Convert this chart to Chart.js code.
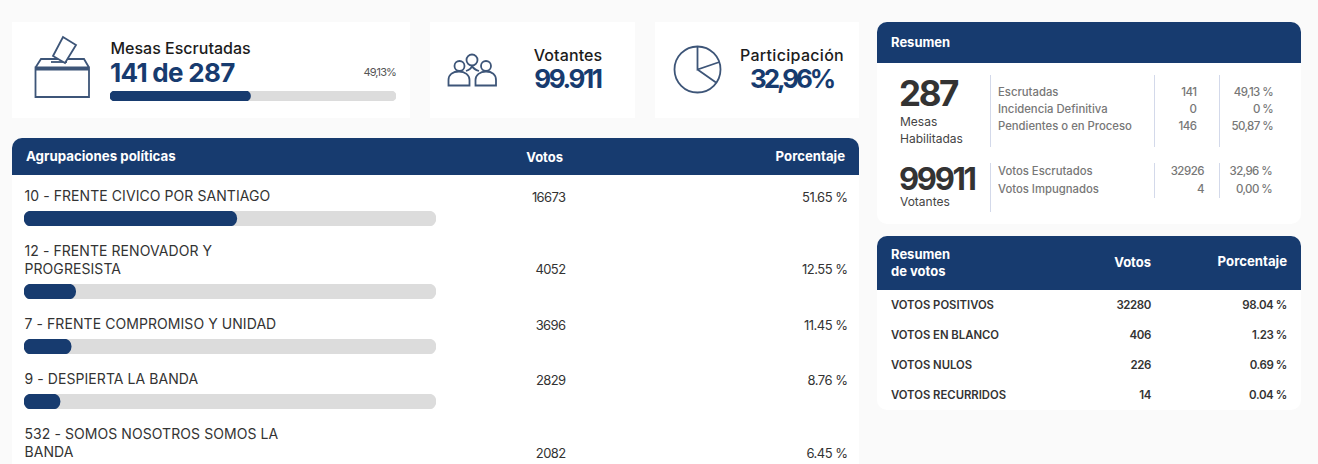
<!DOCTYPE html>
<html lang="es"><head><meta charset="utf-8">
<script src="https://cdn.jsdelivr.net/npm/chart.js@4"></script>
<style>
html,body{margin:0;padding:0;width:1318px;height:464px;overflow:hidden;background:#fafafa}
body{position:relative;font-family:"Inter","Lato",sans-serif;color:#333}
.box{position:absolute;background:#fff}
.head{position:absolute;background:#173b6f}
.t{position:absolute;white-space:nowrap;line-height:1}
.l{position:absolute;width:1px;background:#d3d9ea}
canvas{position:absolute;display:block}
svg{position:absolute;left:0;top:0;fill:none;stroke:#3d5578;stroke-width:1.8}
</style></head><body>
<div class="box" style="left:12px;top:22px;width:398px;height:96px"></div>
<div class="box" style="left:430px;top:22px;width:205px;height:96px"></div>
<div class="box" style="left:655px;top:22px;width:204px;height:96px"></div>
<div class="box" style="left:12px;top:138px;width:847px;height:340px;border-radius:10px 10px 0 0"></div>
<div class="head" style="left:12px;top:138px;width:847px;height:37px;border-radius:10px 10px 0 0"></div>
<div class="box" style="left:877px;top:22px;width:424px;height:202px;border-radius:10px"></div>
<div class="head" style="left:877px;top:22px;width:424px;height:41px;border-radius:10px 10px 0 0"></div>
<div class="box" style="left:877px;top:236px;width:424px;height:174px;border-radius:10px"></div>
<div class="head" style="left:877px;top:236px;width:424px;height:54px;border-radius:10px 10px 0 0"></div>

<svg width="1318" height="120" viewBox="0 0 1318 120">
<path d="M35.500 67.500V97H89V67.500Z M35.500 67.500L41 59H84L89 67.500 M35.500 69.500H89"/>
<path d="M51 62H67"/>
<path d="M53 56L63 37L76 45L65 63Z" fill="#fff"/>
<circle cx="459.500" cy="66" r="5"/><circle cx="472" cy="60" r="5.500"/><circle cx="486" cy="66" r="5"/>
<path d="M448.500 85.500V80C448.500 74.500 453 71.500 459 71.500C465 71.500 469.500 75 469.500 80V85.500Z"/>
<path d="M475.500 85.500V80C475.500 75 480 71.500 486 71.500C492 71.500 496 74.500 496 80V85.500Z"/>
<path d="M466 71C469 70 471.500 68 472 66 M472 66C473 68 476 70 479 71"/>
<circle cx="697.500" cy="69.500" r="23"/><path d="M697.500 46.500V69.500L719.500 62 M697.500 69.500L716 82.500"/>
</svg>

<canvas id="mesasBar" style="left:110px;top:91px;width:286px;height:10px" width="286" height="10"></canvas>
<div id="root"></div>
<script>
const partyLabels = [["10 - FRENTE CIVICO POR SANTIAGO"],["12 - FRENTE RENOVADOR Y","PROGRESISTA"],["7 - FRENTE COMPROMISO Y UNIDAD"],["9 - DESPIERTA LA BANDA"],["532 - SOMOS NOSOTROS SOMOS LA","BANDA"]];
const partyVotes = [16673,4052,3696,2829,2082];
const partyPercent = [51.65,12.55,11.45,8.76,6.45];
const mesasPercent = 49.13;
const resumenRows = [["Escrutadas","141","49,13 %"],["Incidencia Definitiva","0","0 %"],["Pendientes o en Proceso","146","50,87 %"]];
const votantesRows = [["Votos Escrutados","32926","32,96 %"],["Votos Impugnados","4","0,00 %"]];
const votosLabels = ["VOTOS POSITIVOS","VOTOS EN BLANCO","VOTOS NULOS","VOTOS RECURRIDOS"];
const votosValues = [32280,406,226,14];
const votosPercent = ["98.04 %","1.23 %","0.69 %","0.04 %"];

const NAVY="#173b6f", TRACK="#dcdcdc";
const root=document.getElementById('root');
function T(text,x,y,o={}){
  const d=document.createElement('div');d.className='t';d.textContent=text;
  const a=o.a||'l';
  const tx=a==='l'?'0':a==='r'?'-100%':'-50%';
  d.style.cssText=`left:${x}px;top:${y}px;transform:translate(${tx},-50%);font-size:${o.s||13}px;font-weight:${o.w||400};color:${o.c||'#333'};letter-spacing:${o.ls||0}px`;
  root.appendChild(d);
}
function L(x,y1,y2){const d=document.createElement('div');d.className='l';d.style.cssText=`left:${x}px;top:${y1}px;height:${y2-y1}px`;root.appendChild(d);}
function bar(cv,val){
  new Chart(cv,{type:'bar',data:{labels:[''],datasets:[
    {data:[val],backgroundColor:NAVY,borderRadius:99,borderSkipped:false,order:0},
    {data:[100],backgroundColor:TRACK,borderRadius:99,borderSkipped:false,order:1}
  ]},options:{indexAxis:'y',responsive:false,animation:false,events:[],
    datasets:{bar:{grouped:false,barPercentage:1,categoryPercentage:1}},
    layout:{padding:0},plugins:{legend:{display:false},tooltip:{enabled:false}},
    scales:{x:{display:false,min:0,max:100},y:{display:false}}}});
}
// KPI cards
T("Mesas Escrutadas",110.500,48,{s:16,w:500,c:'#1c1c1c'});
T("141 de 287",110,72.500,{s:26,w:700,c:NAVY,ls:-0.7});
T("49,13%",396,72,{s:11,c:'#555',a:'r',ls:-0.9});
T("Votantes",568,54.500,{s:16,w:500,c:'#1c1c1c',a:'c',ls:0.1});
T("99.911",567.500,79,{s:26,w:700,c:NAVY,a:'c',ls:-2.4});
T("Participación",792,54.500,{s:16,w:500,c:'#1c1c1c',a:'c',ls:0.3});
T("32,96%",791.500,79,{s:26,w:700,c:NAVY,a:'c',ls:-3.1});
bar(document.getElementById('mesasBar'),mesasPercent);
// main table
T("Agrupaciones políticas",26,157,{s:13.300,w:700,c:'#fff'});
T("Votos",563,157,{s:13,w:700,c:'#fff',a:'r'});
T("Porcentaje",845,157,{s:13.200,w:700,c:'#fff',a:'r'});
const rowTop=[196,251,324,379,434];
const barTop=[211,284,339,394,467];
const valY=[197,269,325,380,453];
partyLabels.forEach((lines,i)=>{
  lines.forEach((s,j)=>T(s,24.500,rowTop[i]+j*18,{s:14,c:'#333',ls:0.07}));
  T(String(partyVotes[i]),565.500,valY[i],{s:13,c:'#333',a:'r',ls:-0.6});
  T(partyPercent[i].toFixed(2)+" %",847.500,valY[i],{s:13,c:'#333',a:'r',ls:-0.5});
  const c=document.createElement('canvas');c.width=412;c.height=15;
  c.style.cssText=`left:24px;top:${barTop[i]}px;width:412px;height:15px`;
  root.appendChild(c);bar(c,partyPercent[i]);
});
// resumen
T("Resumen",891,42,{s:13,w:700,c:'#fff'});
T("287",899,93,{s:35,w:700,c:'#333',ls:-2.4});
T("Mesas",900,122,{s:12,c:'#444'});
T("Habilitadas",900,138.500,{s:12,c:'#444'});
T("99911",899,178,{s:31,w:700,c:'#333',ls:-2.3});
T("Votantes",900,202,{s:12,c:'#444'});
L(990,75,147);L(1154,75,147);L(1219,75,147);
L(990,163,212);L(1154,163,198);L(1219,163,198);
resumenRows.forEach((r,i)=>{const y=92.500+i*17;
  T(r[0],998,y,{s:11.300,w:500,c:'#777'});T(r[1],1196.500,y,{s:11.500,w:500,c:'#777',a:'r',ls:-0.5});T(r[2],1273,y,{s:11.500,w:500,c:'#777',a:'r',ls:-0.6});});
votantesRows.forEach((r,i)=>{const y=171.500+i*18;
  T(r[0],998,y,{s:11.300,w:500,c:'#777'});T(r[1],1204,y,{s:11.500,w:500,c:'#777',a:'r',ls:-0.5});T(r[2],1272,y,{s:11.500,w:500,c:'#777',a:'r',ls:-0.6});});
// resumen de votos
T("Resumen",891,254,{s:13,w:700,c:'#fff'});
T("de votos",891,271,{s:13,w:700,c:'#fff'});
T("Votos",1151,262,{s:13,w:700,c:'#fff',a:'r'});
T("Porcentaje",1287,262,{s:13.200,w:700,c:'#fff',a:'r'});
votosLabels.forEach((s,i)=>{const y=306+i*30;
  T(s,891,y,{s:11.300,w:600,c:'#333'});
  T(String(votosValues[i]),1151,y,{s:11.500,w:600,c:'#333',a:'r',ls:-0.4});
  T(votosPercent[i],1287,y,{s:11.500,w:600,c:'#333',a:'r',ls:-0.4});
});
</script>
</body></html>
